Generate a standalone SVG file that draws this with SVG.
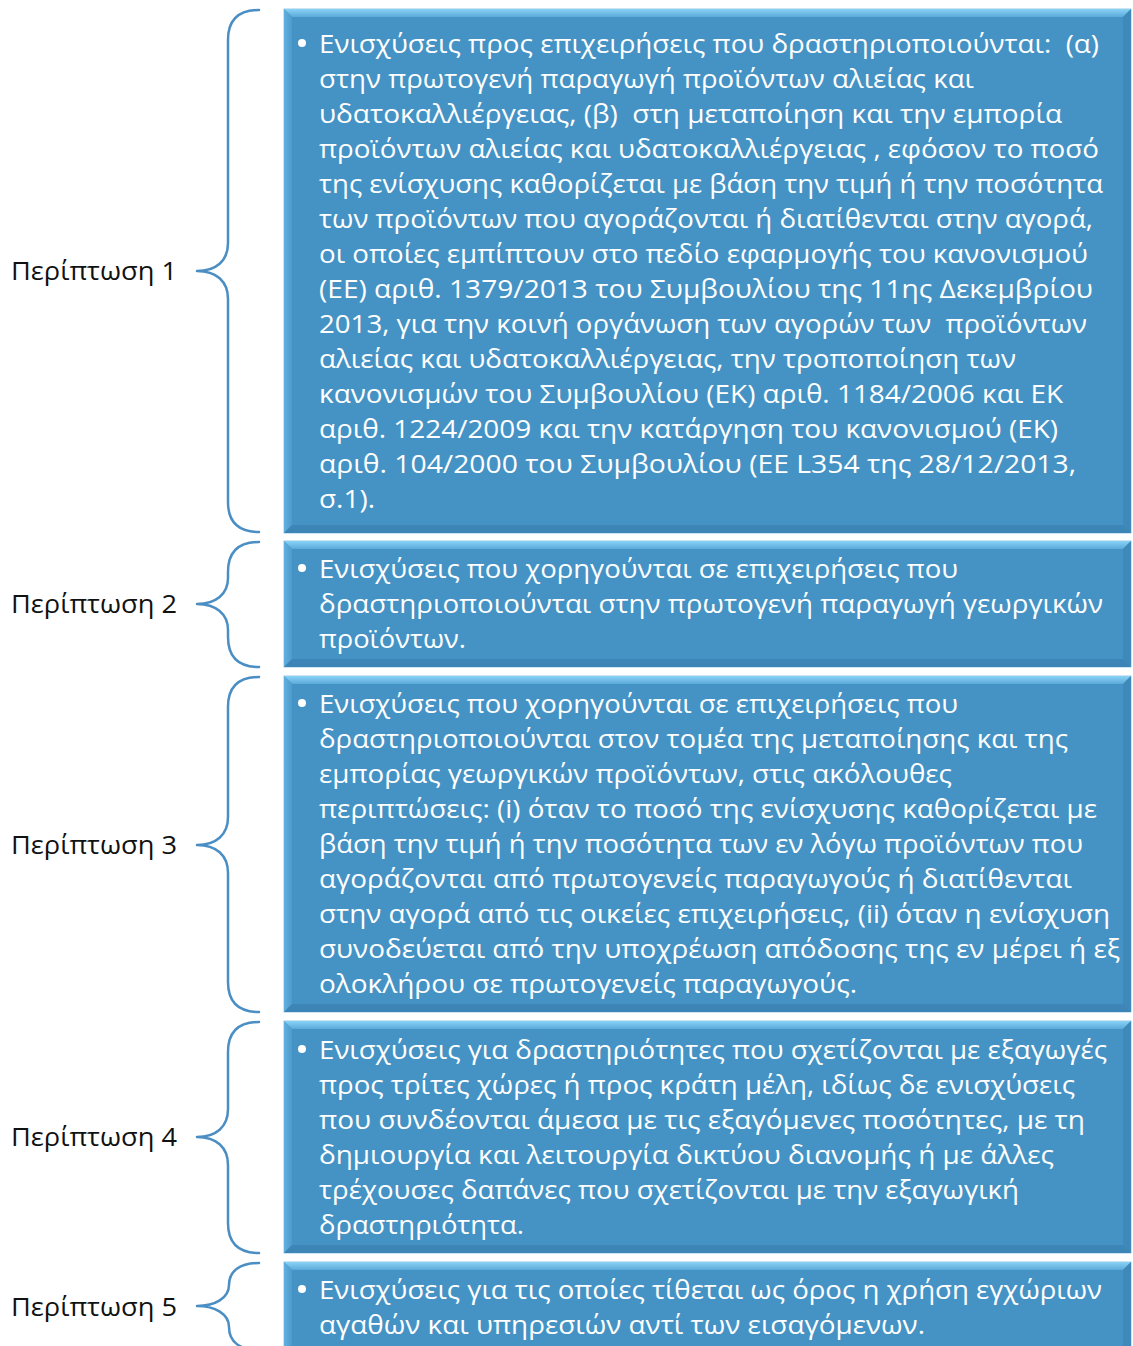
<svg xmlns="http://www.w3.org/2000/svg" width="1133" height="1346" viewBox="0 0 1133 1346">
<defs>
<linearGradient id="gTop" x1="0" y1="0" x2="0" y2="1">
<stop offset="0" stop-color="#8ad2f6"/>
<stop offset="1" stop-color="#5aaad9"/>
</linearGradient>
<linearGradient id="gLeft" x1="0" y1="0" x2="1" y2="0">
<stop offset="0" stop-color="#62b0df"/>
<stop offset="1" stop-color="#4d9bcc"/>
</linearGradient>
<style>
.face{fill:#4593c5;stroke:#9cc9e6;stroke-width:1}
.bt{fill:url(#gTop)}
.bl{fill:url(#gLeft)}
.br{fill:#3f88ba}
.bb{fill:#3d85b6}
.brace{fill:none;stroke:#4a8ec4;stroke-width:2.5;stroke-linecap:round;stroke-linejoin:round}
.lbl{font-family:"Open Sans","Noto Sans","DejaVu Sans",sans-serif;font-size:26px;fill:#111}
.t{font-family:"Open Sans","Noto Sans","DejaVu Sans",sans-serif;font-size:26px;fill:#ffffff}
.dot{fill:#ffffff}
</style>
</defs>
<rect width="1133" height="1346" fill="#ffffff"/>

<g id="connectors">
<path class="brace" d="M259,10 C240,10 228,18 228,40 L228,243 C228,261 216,271 197,271 C216,271 228,281 228,299 L228,502 C228,524 240,532 259,532"/>
<path class="brace" d="M259,542 C240,542 228,550 228,572 L228,578 C228,594 216,604 197,604 C216,604 228,614 228,630 L228,637 C228,659 240,667 259,667"/>
<path class="brace" d="M259,677 C240,677 228,685 228,707 L228,817 C228,835 216,845 197,845 C216,845 228,855 228,873 L228,982 C228,1004 240,1012 259,1012"/>
<path class="brace" d="M259,1022 C240,1022 228,1030 228,1052 L228,1109 C228,1127 216,1137 197,1137 C216,1137 228,1147 228,1165 L228,1223 C228,1245 240,1253 259,1253"/>
<path class="brace" d="M259,1263 C240,1263 229,1271 229,1285 C229,1298 215,1306 197,1306 C215,1306 229,1314 229,1327 C229,1342 240,1350 259,1350"/>
</g>

<g id="case1">
<text class="lbl" x="11" y="280" textLength="166" lengthAdjust="spacingAndGlyphs">Περίπτωση 1</text>
<rect class="face" x="284" y="9" width="847" height="524"/>
<polygon class="bt" points="284,9 1131,9 1123,17 292,17"/>
<polygon class="bl" points="284,9 292,17 292,525 284,533"/>
<polygon class="br" points="1131,9 1131,533 1123,525 1123,17"/>
<polygon class="bb" points="284,533 292,525 1123,525 1131,533"/>
<circle class="dot" cx="302" cy="43" r="4"/>
<text class="t" x="319" y="53" textLength="780" lengthAdjust="spacingAndGlyphs" xml:space="preserve">Ενισχύσεις προς επιχειρήσεις που δραστηριοποιούνται:  (α)</text>
<text class="t" x="319" y="88" textLength="655" lengthAdjust="spacingAndGlyphs">στην πρωτογενή παραγωγή προϊόντων αλιείας και</text>
<text class="t" x="319" y="123" textLength="743" lengthAdjust="spacingAndGlyphs" xml:space="preserve">υδατοκαλλιέργειας, (β)  στη μεταποίηση και την εμπορία</text>
<text class="t" x="319" y="158" textLength="780" lengthAdjust="spacingAndGlyphs">προϊόντων αλιείας και υδατοκαλλιέργειας , εφόσον το ποσό</text>
<text class="t" x="319" y="193" textLength="784" lengthAdjust="spacingAndGlyphs">της ενίσχυσης καθορίζεται με βάση την τιμή ή την ποσότητα</text>
<text class="t" x="319" y="228" textLength="774" lengthAdjust="spacingAndGlyphs">των προϊόντων που αγοράζονται ή διατίθενται στην αγορά,</text>
<text class="t" x="319" y="263" textLength="769" lengthAdjust="spacingAndGlyphs">οι οποίες εμπίπτουν στο πεδίο εφαρμογής του κανονισμού</text>
<text class="t" x="319" y="298" textLength="774" lengthAdjust="spacingAndGlyphs">(ΕΕ) αριθ. 1379/2013 του Συμβουλίου της 11ης Δεκεμβρίου</text>
<text class="t" x="319" y="333" textLength="768" lengthAdjust="spacingAndGlyphs" xml:space="preserve">2013, για την κοινή οργάνωση των αγορών των  προϊόντων</text>
<text class="t" x="319" y="368" textLength="697" lengthAdjust="spacingAndGlyphs">αλιείας και υδατοκαλλιέργειας, την τροποποίηση των</text>
<text class="t" x="319" y="403" textLength="744" lengthAdjust="spacingAndGlyphs">κανονισμών του Συμβουλίου (ΕΚ) αριθ. 1184/2006 και ΕΚ</text>
<text class="t" x="319" y="438" textLength="739" lengthAdjust="spacingAndGlyphs">αριθ. 1224/2009 και την κατάργηση του κανονισμού (ΕΚ)</text>
<text class="t" x="319" y="473" textLength="757" lengthAdjust="spacingAndGlyphs">αριθ. 104/2000 του Συμβουλίου (ΕΕ L354 της 28/12/2013,</text>
<text class="t" x="319" y="508" textLength="56" lengthAdjust="spacingAndGlyphs">σ.1).</text>
</g>

<g id="case2">
<text class="lbl" x="11" y="613" textLength="166" lengthAdjust="spacingAndGlyphs">Περίπτωση 2</text>
<rect class="face" x="284" y="541" width="847" height="126"/>
<polygon class="bt" points="284,541 1131,541 1123,549 292,549"/>
<polygon class="bl" points="284,541 292,549 292,659 284,667"/>
<polygon class="br" points="1131,541 1131,667 1123,659 1123,549"/>
<polygon class="bb" points="284,667 292,659 1123,659 1131,667"/>
<circle class="dot" cx="302" cy="568" r="4"/>
<text class="t" x="319" y="578" textLength="639" lengthAdjust="spacingAndGlyphs">Ενισχύσεις που χορηγούνται σε επιχειρήσεις που</text>
<text class="t" x="319" y="613" textLength="784" lengthAdjust="spacingAndGlyphs">δραστηριοποιούνται στην πρωτογενή παραγωγή γεωργικών</text>
<text class="t" x="319" y="648" textLength="147" lengthAdjust="spacingAndGlyphs">προϊόντων.</text>
</g>

<g id="case3">
<text class="lbl" x="11" y="854" textLength="166" lengthAdjust="spacingAndGlyphs">Περίπτωση 3</text>
<rect class="face" x="284" y="676" width="847" height="336"/>
<polygon class="bt" points="284,676 1131,676 1123,684 292,684"/>
<polygon class="bl" points="284,676 292,684 292,1004 284,1012"/>
<polygon class="br" points="1131,676 1131,1012 1123,1004 1123,684"/>
<polygon class="bb" points="284,1012 292,1004 1123,1004 1131,1012"/>
<circle class="dot" cx="302" cy="703" r="4"/>
<text class="t" x="319" y="713" textLength="639" lengthAdjust="spacingAndGlyphs">Ενισχύσεις που χορηγούνται σε επιχειρήσεις που</text>
<text class="t" x="319" y="748" textLength="749" lengthAdjust="spacingAndGlyphs">δραστηριοποιούνται στον τομέα της μεταποίησης και της</text>
<text class="t" x="319" y="783" textLength="633" lengthAdjust="spacingAndGlyphs">εμπορίας γεωργικών προϊόντων, στις ακόλουθες</text>
<text class="t" x="319" y="818" textLength="778" lengthAdjust="spacingAndGlyphs">περιπτώσεις: (i) όταν το ποσό της ενίσχυσης καθορίζεται με</text>
<text class="t" x="319" y="853" textLength="764" lengthAdjust="spacingAndGlyphs">βάση την τιμή ή την ποσότητα των εν λόγω προϊόντων που</text>
<text class="t" x="319" y="888" textLength="753" lengthAdjust="spacingAndGlyphs">αγοράζονται από πρωτογενείς παραγωγούς ή διατίθενται</text>
<text class="t" x="319" y="923" textLength="791" lengthAdjust="spacingAndGlyphs">στην αγορά από τις οικείες επιχειρήσεις, (ii) όταν η ενίσχυση</text>
<text class="t" x="319" y="958" textLength="801" lengthAdjust="spacingAndGlyphs">συνοδεύεται από την υποχρέωση απόδοσης της εν μέρει ή εξ</text>
<text class="t" x="319" y="993" textLength="538" lengthAdjust="spacingAndGlyphs">ολοκλήρου σε πρωτογενείς παραγωγούς.</text>
</g>

<g id="case4">
<text class="lbl" x="11" y="1146" textLength="166" lengthAdjust="spacingAndGlyphs">Περίπτωση 4</text>
<rect class="face" x="284" y="1021" width="847" height="232"/>
<polygon class="bt" points="284,1021 1131,1021 1123,1029 292,1029"/>
<polygon class="bl" points="284,1021 292,1029 292,1245 284,1253"/>
<polygon class="br" points="1131,1021 1131,1253 1123,1245 1123,1029"/>
<polygon class="bb" points="284,1253 292,1245 1123,1245 1131,1253"/>
<circle class="dot" cx="302" cy="1049" r="4"/>
<text class="t" x="319" y="1059" textLength="788" lengthAdjust="spacingAndGlyphs">Ενισχύσεις για δραστηριότητες που σχετίζονται με εξαγωγές</text>
<text class="t" x="319" y="1094" textLength="756" lengthAdjust="spacingAndGlyphs">προς τρίτες χώρες ή προς κράτη μέλη, ιδίως δε ενισχύσεις</text>
<text class="t" x="319" y="1129" textLength="766" lengthAdjust="spacingAndGlyphs">που συνδέονται άμεσα με τις εξαγόμενες ποσότητες, με τη</text>
<text class="t" x="319" y="1164" textLength="735" lengthAdjust="spacingAndGlyphs">δημιουργία και λειτουργία δικτύου διανομής ή με άλλες</text>
<text class="t" x="319" y="1199" textLength="700" lengthAdjust="spacingAndGlyphs">τρέχουσες δαπάνες που σχετίζονται με την εξαγωγική</text>
<text class="t" x="319" y="1234" textLength="205" lengthAdjust="spacingAndGlyphs">δραστηριότητα.</text>
</g>

<g id="case5">
<text class="lbl" x="11" y="1316" textLength="166" lengthAdjust="spacingAndGlyphs">Περίπτωση 5</text>
<rect class="face" x="284" y="1262" width="847" height="100"/>
<polygon class="bt" points="284,1262 1131,1262 1123,1270 292,1270"/>
<polygon class="bl" points="284,1262 292,1270 292,1362 284,1362"/>
<polygon class="br" points="1131,1262 1131,1362 1123,1362 1123,1270"/>
<circle class="dot" cx="302" cy="1289" r="4"/>
<text class="t" x="319" y="1299" textLength="783" lengthAdjust="spacingAndGlyphs">Ενισχύσεις για τις οποίες τίθεται ως όρος η χρήση εγχώριων</text>
<text class="t" x="319" y="1334" textLength="606" lengthAdjust="spacingAndGlyphs">αγαθών και υπηρεσιών αντί των εισαγόμενων.</text>
</g>
</svg>
